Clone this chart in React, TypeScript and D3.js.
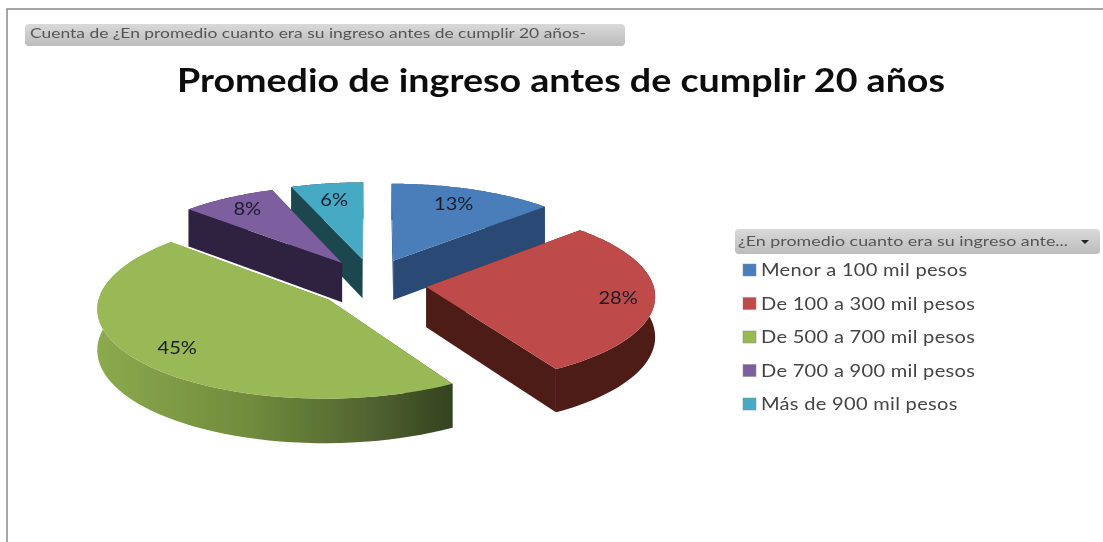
import React from "react";
import * as d3 from "d3";

const categories = ["Menor a 100 mil pesos", "De 100 a 300 mil pesos", "De 500 a 700 mil pesos", "De 700 a 900 mil pesos", "Más de 900 mil pesos"];
const values = [13.0, 28.49, 45.31, 7.5, 5.7];
const topColors = ["#4a7ebb", "#be4b48", "#98b954", "#7d5fa0", "#46aac5"];
const wallColors = ["#2a4a75", "#4e1b19", "url(#greenWall)", "#2f2440", "#1c474f"];
const labelRadii = [0.78, 0.84, 0.8, 0.82, 0.78];
const labelTurns = [-0.02, 0, 0, 0, 0];

const titleText = "Promedio de ingreso antes de cumplir 20 años";
const filterText = "Cuenta de ¿En promedio cuanto era su ingreso antes de cumplir 20 años-";
const legendHeader = "¿En promedio cuanto era su ingreso ante...";

const FONT = "Lato, 'Open Sans', sans-serif";
const CX = 372, CY = 283.5, R = 216, EXPLODE = 52, EXPLODE_Y = 1.2, TILT = 0.405, PERSP = 0.0004, XS = 1.05, DEPTH = 40;
const TEXT_STRETCH = 1.18;

type P = [number, number];

const project = (X: number, Y: number): P => {
  const k = 1 / (1 - PERSP * Y);
  return [CX + XS * X * k, CY + TILT * Y * k];
};
const depthAt = (Y: number) => DEPTH / (1 - PERSP * Y);
const polar = (a: number, r: number) => [r * Math.sin(a), -r * Math.cos(a)];

const line = d3.line<P>().x((d) => d[0]).y((d) => d[1]);
const closed = (pts: P[]) => line(pts) + "Z";

const arcs = d3.pie<number>().sort(null).value((d) => d)(values);

const slices = arcs.map((a, i) => {
  const mid = (a.startAngle + a.endAngle) / 2;
  const [ox, oy0] = polar(mid, EXPLODE);
  const oy = oy0 * EXPLODE_Y;
  const world = d3.range(0, 61).map((t) => {
    const ang = a.startAngle + ((a.endAngle - a.startAngle) * t) / 60;
    const [x, y] = polar(ang, R);
    return [ox + x, oy + y] as P;
  });
  const down = (w: P): P => {
    const [x, y] = project(w[0], w[1]);
    return [x, y + depthAt(w[1])];
  };
  const up = (w: P): P => project(w[0], w[1]);
  const apex: P = [ox, oy];
  const top = [up(apex), ...world.map(up)];
  const outer = [...world.map(up), ...[...world].reverse().map(down)];
  const wallA = [up(apex), up(world[0]), down(world[0]), down(apex)];
  const wallB = [up(apex), up(world[60]), down(world[60]), down(apex)];
  const [lx, ly] = polar(mid + labelTurns[i], R * labelRadii[i]);
  const label = project(ox + lx, oy + ly);
  return { i, oy, top, outer, wallA, wallB, label };
});

const drawOrder = [...slices].sort((a, b) => a.oy - b.oy);
const legendY = d3.scalePoint<string>().domain(categories).range([270, 404]);

export default function App() {
  return (
    <svg width={1103} height={542} style={{ position: "absolute", left: 0, top: 0, background: "#fff" }}>
      <defs>
        <linearGradient id="greenWall" gradientUnits="userSpaceOnUse" x1={93} x2={447} y1={0} y2={0}>
          <stop offset="0" stopColor="#8cab4e" />
          <stop offset="0.45" stopColor="#6f8b3c" />
          <stop offset="0.8" stopColor="#4f6130" />
          <stop offset="1" stopColor="#364420" />
        </linearGradient>
        <linearGradient id="pill" x1={0} x2={0} y1={0} y2={1}>
          <stop offset="0" stopColor="#d9d9d9" />
          <stop offset="1" stopColor="#bcbcbc" />
        </linearGradient>
        <filter id="soft" x="-5%" y="-5%" width="110%" height="110%">
          <feGaussianBlur stdDeviation="0.7" />
        </filter>
      </defs>

      <g filter="url(#soft)">
        <path d="M7,542V9H1103" fill="none" stroke="#8a8a8a" strokeWidth={1.5} />

        <rect x={25} y={24} width={600} height={22} rx={4} fill="url(#pill)" />
        <text x={30} y={38} fontFamily={FONT} fontSize={13} fill="#555" textLength={556} lengthAdjust="spacingAndGlyphs">{filterText}</text>

        <text x={177} y={92} fontFamily={FONT} fontSize={33} fontWeight={700} fill="#111" textLength={768} lengthAdjust="spacingAndGlyphs">{titleText}</text>

        {drawOrder.map((s) => (
          <g key={s.i}>
            <path d={closed(s.wallA)} fill={wallColors[s.i]} />
            <path d={closed(s.wallB)} fill={wallColors[s.i]} />
            <path d={closed(s.outer)} fill={wallColors[s.i]} />
            <path d={closed(s.top)} fill={topColors[s.i]} />
          </g>
        ))}
        {slices.map((s) => (
          <text key={s.i} transform={`translate(${s.label[0]},${s.label[1]}) scale(${TEXT_STRETCH},1)`} textAnchor="middle" dominantBaseline="central" fontFamily={FONT} fontSize={17} fill="#1a1a2a">
            {Math.round(values[s.i])}%
          </text>
        ))}

        <rect x={735} y={229} width={365} height={25} rx={4} fill="url(#pill)" />
        <text x={738} y={246} fontFamily={FONT} fontSize={13.5} fill="#555" textLength={330} lengthAdjust="spacingAndGlyphs">{legendHeader}</text>
        <path d="M1081,240h8l-4,4Z" fill="#222" />

        {categories.map((c, i) => {
          const y = legendY(c)!;
          return (
            <g key={c}>
              <rect x={743} y={y - 6} width={13} height={12} fill={topColors[i]} stroke="#888" strokeWidth={0.5} />
              <text transform={`translate(761,${y + 6}) scale(${TEXT_STRETCH},1)`} fontFamily={FONT} fontSize={17} fill="#444" letterSpacing={0.25}>{c}</text>
            </g>
          );
        })}
      </g>
    </svg>
  );
}
